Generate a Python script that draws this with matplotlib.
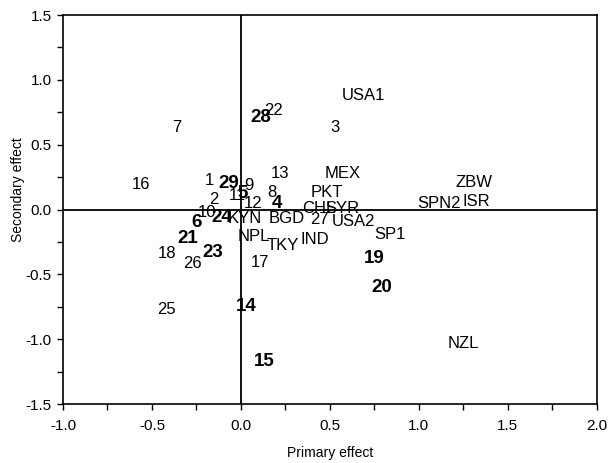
import numpy as np
import matplotlib.pyplot as plt
from matplotlib.ticker import MultipleLocator

plt.rcParams['font.family'] = ['Liberation Sans', 'DejaVu Sans']
plt.rcParams['axes.unicode_minus'] = False

# labels drawn in normal weight
names = ['USA1', '3', '7', '22', '16', '1', '9', '11', '13', '8', '2', '12',
         '10', 'KYN', 'BGD', '27', 'NPL', 'IND', 'TKY', '18', '26', '17',
         'CHL', 'SYR', 'MEX', 'PKT', 'USA2', 'SP1', 'SPN2', 'ISR', 'ZBW',
         'NZL', '25']
primary = [0.69, 0.53, -0.36, 0.185, -0.56, -0.18, 0.045, -0.02, 0.22, 0.175,
           -0.15, 0.07, -0.19, 0.02, 0.26, 0.44, 0.07, 0.415, 0.235, -0.415,
           -0.275, 0.11, 0.44, 0.57, 0.57, 0.48, 0.635, 0.84, 1.115, 1.32,
           1.31, 1.25, -0.42]
secondary = [0.88, 0.63, 0.63, 0.76, 0.19, 0.22, 0.185, 0.11, 0.28, 0.13,
             0.08, 0.05, -0.02, -0.07, -0.07, -0.08, -0.21, -0.23, -0.28,
             -0.34, -0.42, -0.41, 0.01, 0.01, 0.28, 0.13, -0.09, -0.19, 0.05,
             0.06, 0.21, -1.03, -0.77]

# labels drawn in bold
bold_names = ['28', '29', '5', '4', '6', '24', '21', '23', '19', '20', '14', '15']
bold_primary = [0.11, -0.067, 0.011, 0.20, -0.25, -0.11, -0.30, -0.16, 0.75,
                0.79, 0.03, 0.13]
bold_secondary = [0.71, 0.20, 0.12, 0.05, -0.10, -0.06, -0.22, -0.33, -0.38,
                  -0.60, -0.75, -1.17]

fig = plt.figure(figsize=(6.09, 4.63), dpi=100)
ax = fig.add_axes([0.1034, 0.1274, 0.8766, 0.8402])

for n, x, y in zip(names, primary, secondary):
    ax.text(x, y, n, fontsize=12, ha='center', va='center')
for n, x, y in zip(bold_names, bold_primary, bold_secondary):
    ax.text(x, y, n, fontsize=13.5, fontweight='bold', ha='center', va='center')

ax.axhline(0, color='black', lw=1.3)
ax.axvline(0, color='black', lw=1.3)

ax.set_xlim(-1.0, 2.0)
ax.set_ylim(-1.5, 1.5)
ax.xaxis.set_major_locator(MultipleLocator(0.5))
ax.xaxis.set_minor_locator(MultipleLocator(0.25))
ax.yaxis.set_major_locator(MultipleLocator(0.5))
ax.yaxis.set_minor_locator(MultipleLocator(0.25))
ax.xaxis.set_major_formatter('{x:.1f}')
ax.yaxis.set_major_formatter('{x:.1f}')
ax.tick_params(which='both', direction='out', length=4, width=1, labelsize=11)
ax.tick_params(axis='x', pad=7)
ax.tick_params(axis='y', pad=4)
for s in ax.spines.values():
    s.set_linewidth(1.2)

ax.set_xlabel('Primary effect', fontsize=10)
ax.set_ylabel('Secondary effect', fontsize=10)
ax.xaxis.set_label_coords(0.5, -0.108)
ax.yaxis.set_label_coords(-0.072, 0.55)

fig.savefig('out.png', dpi=100)
